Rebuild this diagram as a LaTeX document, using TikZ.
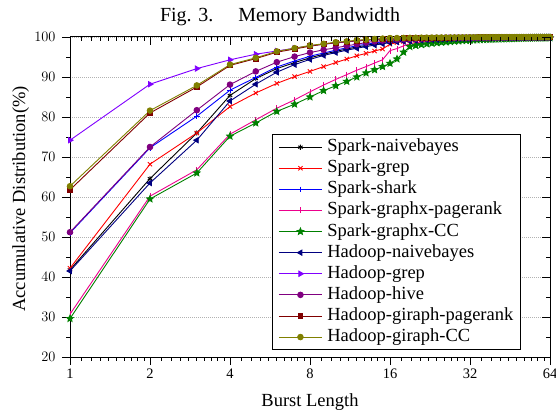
\documentclass[tikz,border=0pt]{standalone}
\usepackage{fontspec}
\setmainfont{Liberation Serif}
\usepackage{tikz}
\usepackage{xcolor}
\usepackage{pgfplots}
\usetikzlibrary{
    plotmarks,
    positioning
}
\pgfplotsset{compat=1.16}

\definecolor{navyc}{RGB}{0,0,128}
\definecolor{violetc}{RGB}{128,0,255}
\definecolor{purplec}{RGB}{128,0,128}
\definecolor{darkredc}{RGB}{128,0,0}
\definecolor{olivec}{RGB}{128,128,0}
\definecolor{greenc}{RGB}{0,128,0}

\pgfdeclareplotmark{fivestar}{%
    \pgfpathmoveto{\pgfpointpolar{90}{\pgfplotmarksize}}%
    \pgfpathlineto{\pgfpointpolar{126}{0.45\pgfplotmarksize}}%
    \pgfpathlineto{\pgfpointpolar{162}{\pgfplotmarksize}}%
    \pgfpathlineto{\pgfpointpolar{198}{0.45\pgfplotmarksize}}%
    \pgfpathlineto{\pgfpointpolar{234}{\pgfplotmarksize}}%
    \pgfpathlineto{\pgfpointpolar{270}{0.45\pgfplotmarksize}}%
    \pgfpathlineto{\pgfpointpolar{306}{\pgfplotmarksize}}%
    \pgfpathlineto{\pgfpointpolar{342}{0.45\pgfplotmarksize}}%
    \pgfpathlineto{\pgfpointpolar{18}{\pgfplotmarksize}}%
    \pgfpathlineto{\pgfpointpolar{54}{0.45\pgfplotmarksize}}%
    \pgfpathclose
    \pgfusepathqfillstroke}

\tikzset{
    sparknb/.style={black, mark=asterisk, mark size=2.6pt},
    sparkgrep/.style={red, mark=x, mark size=3pt},
    sparkshark/.style={blue, mark=+, mark size=2.8pt},
    sparkpr/.style={magenta, mark=|, mark size=3pt},
    sparkcc/.style={greenc, mark=fivestar, mark size=3.4pt},
    hadoopnb/.style={navyc, mark=triangle*, mark size=3pt, mark options={rotate=90}},
    hadoopgrep/.style={violetc, mark=triangle*, mark size=3pt, mark options={rotate=-90}},
    hadoophive/.style={purplec, mark=*, mark size=2.8pt},
    hadooppr/.style={darkredc, mark=square*, mark size=2.4pt},
    hadoopcc/.style={olivec, mark=*, mark size=2.8pt},
    axtick/.style={black, line width=0.9pt}
}

\newcommand{\tailplot}[3]{\addplot[#1, forget plot, samples at={#2,...,64}] {100-(100-#3)*(#2/x)^2};}

\begin{document}
\begin{tikzpicture}
    \useasboundingbox (0,0) rectangle (556pt,412pt);
    \node (title) [anchor=base, font=\fontsize{20}{22}\selectfont] at (280pt,390pt) {Fig. 3.\hspace{1.25em}Memory Bandwidth};
    \node (xlabel) [anchor=base, font=\fontsize{18.5}{20}\selectfont] at (310pt,6pt) {Burst Length};
    \node (ylabel) [anchor=base, rotate=90, font=\fontsize{18.5}{20}\selectfont] at (25pt,213pt) {Accumulative Distribution(\%)};
    \begin{axis}[
        scale only axis, width=480pt, height=320pt,
        at={(70pt,55pt)}, anchor=south west,
        xmode=log, log basis x=2,
        xmin=1, xmax=64, ymin=20, ymax=100,
        xtick={1,2,4,8,16,32,64},
        xticklabels={1,2,4,8,16,32,64},
        ytick={20,30,...,100},
        minor ytick={25,35,...,95},
        xtick pos=left, ytick pos=left, tick align=outside,
        major tick length=8pt, minor tick length=4pt,
        axis line style={line width=1pt},
        every tick/.style={black, line width=0.9pt},
        tick label style={font=\fontsize{14.5}{16}\selectfont},
        yticklabel style={xshift=-3pt},
        ymajorgrids,
        major grid style={gray!60, line width=0.8pt, dash pattern=on 1pt off 1pt},
        clip=false,
        every axis plot/.append style={line width=0.9pt},
        legend cell align=left,
        legend style={at={(0.421,0.022)}, anchor=south west, draw=black, line width=0.8pt,
            font=\fontsize{18.5}{20}\selectfont, inner xsep=6pt, inner ysep=3pt,
            row sep=2.1pt, nodes={inner sep=1pt, text height=13pt, text depth=4pt},
            /tikz/every odd column/.append style={column sep=4pt}},
        legend image code/.code={\draw[mark repeat=2,mark phase=2,#1] plot coordinates {(0pt,0pt) (21.5pt,0pt) (43pt,0pt)};}
    ]
        \addplot[sparknb] coordinates {(1,41.8) (2,64.6) (3,76.0) (4,85.4) (5,89.6) (6,92.1) (7,93.6) (8,94.8) (9,95.7) (10,96.4) (11,97.0) (12,97.5) (13,97.9) (14,98.3) (15,98.6) (16,98.9)};
        \addlegendentry{Spark-naivebayes}
        \tailplot{sparknb}{16}{98.9}
        \addplot[sparkgrep] coordinates {(1,42.2) (2,68.2) (3,76.0) (4,82.6) (5,86.0) (6,88.4) (7,90.1) (8,91.4) (9,92.6) (10,93.6) (11,94.5) (12,95.3) (13,95.9) (14,96.5) (15,97.0) (16,98.2) (17,98.6) (18,98.9) (19,99.1) (20,99.2)};
        \addlegendentry{Spark-grep}
        \tailplot{sparkgrep}{20}{99.2}
        \addplot[sparkshark] coordinates {(1,51.0) (2,72.3) (3,80.2) (4,86.7) (5,89.9) (6,92.5) (7,94.0) (8,95.2) (9,96.0) (10,96.7) (11,97.3) (12,97.8) (13,98.2) (14,98.5) (15,98.8) (16,99.0)};
        \addlegendentry{Spark-shark}
        \tailplot{sparkshark}{16}{99.0}
        \addplot[sparkpr] coordinates {(1,30.7) (2,60.2) (3,66.8) (4,75.7) (5,79.3) (6,82.2) (7,84.3) (8,86.3) (9,88.0) (10,89.4) (11,90.6) (12,91.7) (13,92.6) (14,93.5) (15,94.3) (16,96.6) (17,97.1) (18,97.8) (19,98.3) (20,98.6)};
        \addlegendentry{Spark-graphx-pagerank}
        \tailplot{sparkpr}{20}{98.6}
        \addplot[sparkcc] coordinates {(1,29.6) (2,59.5) (3,66.0) (4,75.2) (5,78.5) (6,81.4) (7,83.2) (8,85.0) (9,86.6) (10,87.8) (11,88.9) (12,90.0) (13,91.0) (14,91.8) (15,92.6) (16,93.4) (17,94.5) (18,96.2) (19,97.6) (20,97.9)};
        \addlegendentry{Spark-graphx-CC}
        \tailplot{sparkcc}{20}{97.9}
        \addplot[hadoopnb] coordinates {(1,41.5) (2,63.5) (3,74.2) (4,84.0) (5,88.2) (6,91.2) (7,93.1) (8,94.4) (9,95.4) (10,96.1) (11,96.7) (12,97.2) (13,97.6) (14,98.0) (15,98.3) (16,98.6)};
        \addlegendentry{Hadoop-naivebayes}
        \tailplot{hadoopnb}{16}{98.6}
        \addplot[hadoopgrep] coordinates {(1,74.2) (2,88.2) (3,92.1) (4,94.3) (5,95.7) (6,96.5) (7,97.2) (8,97.8) (9,98.2) (10,98.5) (11,98.8) (12,99.0) (13,99.2) (14,99.3) (15,99.4) (16,99.5)};
        \addlegendentry{Hadoop-grep}
        \tailplot{hadoopgrep}{16}{99.5}
        \addplot[hadoophive] coordinates {(1,51.2) (2,72.5) (3,81.7) (4,88.1) (5,91.4) (6,93.7) (7,95.1) (8,96.1) (9,96.8) (10,97.3) (11,97.8) (12,98.2) (13,98.6) (14,98.9) (15,99.1) (16,99.3)};
        \addlegendentry{Hadoop-hive}
        \tailplot{hadoophive}{16}{99.3}
        \addplot[hadooppr] coordinates {(1,61.8) (2,81.0) (3,87.5) (4,92.9) (5,94.6) (6,96.2) (7,97.0) (8,97.7) (9,98.2) (10,98.6) (11,98.8) (12,99.1) (13,99.3) (14,99.4) (15,99.5) (16,99.6)};
        \addlegendentry{Hadoop-giraph-pagerank}
        \tailplot{hadooppr}{16}{99.6}
        \addplot[hadoopcc] coordinates {(1,62.7) (2,81.6) (3,87.9) (4,93.1) (5,94.8) (6,96.4) (7,97.2) (8,97.9) (9,98.3) (10,98.7) (11,98.9) (12,99.2) (13,99.35) (14,99.5) (15,99.6) (16,99.7)};
        \addlegendentry{Hadoop-giraph-CC}
        \tailplot{hadoopcc}{16}{99.7}
    \end{axis}
    \foreach \k in {0,...,6}
        \draw[axtick] (70pt+80pt*\k,375pt) -- ++(0,-8pt);
    \foreach \k in {0,...,5}
        \foreach \j in {1,...,9} {
            \draw[axtick] ({(70+80*\k+80*ln(1+\j/10)/ln(2))*1pt},375pt) -- ++(0,-4pt);
            \draw[axtick] ({(70+80*\k+80*ln(1+\j/10)/ln(2))*1pt},55pt) -- ++(0,-4pt);
        }
    \foreach \j in {0,...,8}
        \draw[axtick] (550pt,55pt+40pt*\j) -- ++(-8pt,0);
    \foreach \j in {0,...,7}
        \draw[axtick] (550pt,75pt+40pt*\j) -- ++(-4pt,0);
\end{tikzpicture}
\end{document}
